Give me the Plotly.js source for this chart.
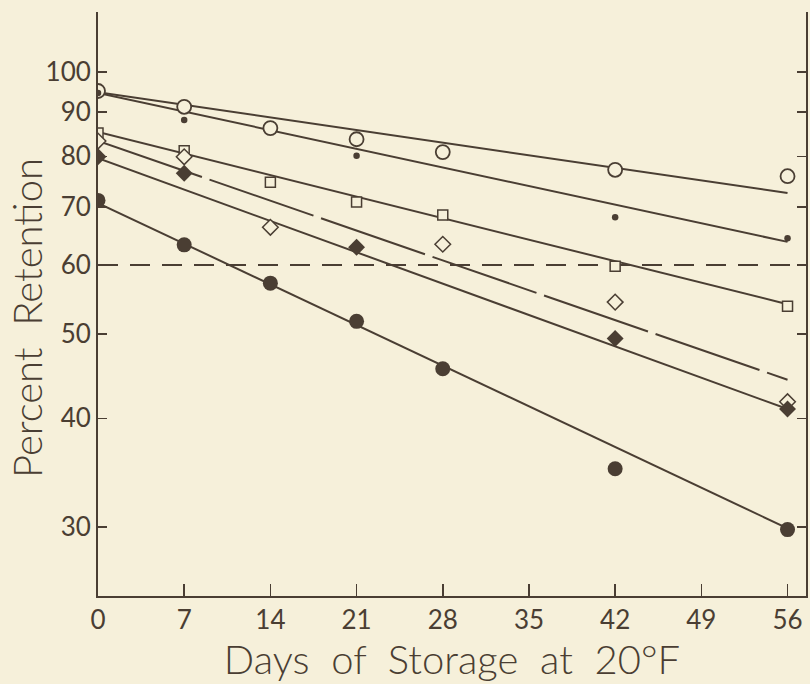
<!DOCTYPE html>
<html>
<head>
<meta charset="utf-8">
<script src="https://cdn.plot.ly/plotly-3.0.1.min.js"></script>
<style>
  html, body { margin: 0; padding: 0; background: #f6f0da; }
  #chart { width: 810px; height: 684px; }
</style>
</head>
<body>
<div id="chart"></div>
<script>
// ---- data ----
// open circles
const openCircleDays = [0, 7, 14, 21, 28, 42, 56];
const openCircleVals = [95.1, 91.2, 86.2, 83.7, 80.9, 77.2, 75.9];
// small dots
const dotDays = [0, 7, 21, 42, 56];
const dotVals = [94.6, 88.1, 80.1, 68.1, 64.4];
// open squares
const squareDays = [0, 7, 14, 21, 28, 42, 56];
const squareVals = [85.1, 81.2, 74.7, 70.9, 68.5, 59.8, 53.8];
// open diamonds
const openDiamondDays = [0, 7, 14, 28, 42, 56];
const openDiamondVals = [83.3, 79.9, 66.3, 63.4, 54.4, 41.8];
// filled diamonds
const filledDiamondDays = [0, 7, 21, 42, 56];
const filledDiamondVals = [79.9, 76.5, 62.9, 49.4, 41.0];
// filled circles
const filledCircleDays = [0, 7, 14, 21, 28, 42, 56];
const filledCircleVals = [71.2, 63.3, 57.2, 51.7, 45.6, 35.0, 29.8];

// fitted lines: value at day 0 and at day 56
const fitDays = [0, 56];
const fitOpenCircle = [94.8, 72.6];
const fitDot = [94.6, 63.8];
const fitSquare = [85.3, 54.1];
const fitOpenDiamond = [83.3, 44.3];
const fitFilledDiamond = [79.6, 41.0];
const fitFilledCircle = [70.7, 29.9];

const thresholdValue = 60;
const xTicks = [0, 7, 14, 21, 28, 35, 42, 49, 56];
const yTicks = [30, 40, 50, 60, 70, 80, 90, 100];

// ---- styling ----
const ink = '#4a3e33';
const bg = '#f6f0da';
const xRange = [0, 57.5];
const yRange = [Math.log10(25), Math.log10(117.2)];

function fitLine(vals, dash) {
  return { x: fitDays, y: vals, mode: 'lines', type: 'scatter',
    line: { color: ink, width: 2, dash: dash || 'solid' }, hoverinfo: 'skip' };
}
function markers(xs, ys, symbol, size, filled, lw) {
  return { x: xs, y: ys, mode: 'markers', type: 'scatter',
    marker: { symbol: symbol, size: size, color: filled ? ink : bg,
      line: { color: ink, width: lw } } };
}

const traces = [
  { x: xRange, y: [thresholdValue, thresholdValue], mode: 'lines', type: 'scatter',
    line: { color: ink, width: 2, dash: '20px,12px' }, hoverinfo: 'skip' },
  fitLine(fitOpenCircle),
  fitLine(fitDot),
  fitLine(fitSquare),
  fitLine(fitOpenDiamond, '110px,8px'),
  fitLine(fitFilledDiamond),
  fitLine(fitFilledCircle),
  markers(openCircleDays, openCircleVals, 'circle', 14, false, 1.8),
  markers(dotDays, dotVals, 'circle', 6.5, true, 0),
  markers(squareDays, squareVals, 'square', 10, false, 1.5),
  markers(openDiamondDays, openDiamondVals, 'diamond', 12, false, 1.5),
  markers(filledDiamondDays, filledDiamondVals, 'diamond', 13, true, 0),
  markers(filledCircleDays, filledCircleVals, 'circle', 15, true, 0)
];

const fam = 'Lato, "Open Sans", sans-serif';
const tickFont = { family: fam, color: ink, size: 26, weight: 400 };
const titleFont = { family: fam, color: ink, size: 40, weight: 300 };

const layout = {
  width: 810, height: 684,
  paper_bgcolor: bg, plot_bgcolor: bg,
  showlegend: false,
  margin: { l: 98, r: 4, t: 12, b: 88 },
  xaxis: {
    range: xRange, tickvals: xTicks, ticktext: xTicks.map(String),
    ticks: 'inside', ticklen: 12, tickwidth: 1.5, tickcolor: ink,
    showline: true, linecolor: ink, linewidth: 2, mirror: false,
    showgrid: false, zeroline: false,
    tickfont: tickFont,
    title: { text: 'Days  of  Storage  at  20°F', font: titleFont, standoff: 2 }
  },
  yaxis: {
    type: 'log', range: yRange, tickvals: yTicks, ticktext: yTicks.map(String),
    ticks: 'inside', ticklen: 9, tickwidth: 1.5, tickcolor: ink,
    showline: true, linecolor: ink, linewidth: 2, mirror: 'ticks',
    showgrid: false, zeroline: false,
    tickfont: tickFont
  },
  annotations: [{
    text: 'Percent  Retention', textangle: -90,
    xref: 'paper', yref: 'paper', x: -0.1003, y: 0.476,
    xanchor: 'center', yanchor: 'middle', showarrow: false,
    font: titleFont
  }]
};

Plotly.newPlot('chart', traces, layout, { displayModeBar: false, staticPlot: true });
</script>
</body>
</html>
